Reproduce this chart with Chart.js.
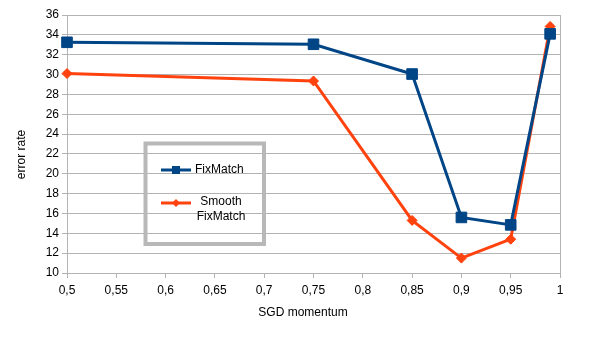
<!DOCTYPE html>
<html>
<head>
<meta charset="utf-8">
<script src="https://cdn.jsdelivr.net/npm/chart.js@4/dist/chart.umd.min.js"></script>
<style>
  html, body { margin: 0; padding: 0; background: #fff; }
  #wrap { width: 605px; height: 340px; }
</style>
</head>
<body>
<div id="wrap"><canvas id="chart" width="605" height="340"></canvas></div>
<script>
// momentum values on the x axis
const momentum = [0.5, 0.75, 0.85, 0.9, 0.95, 0.99];
const fixmatch = [33.25, 33.05, 30.05, 15.6, 14.85, 34.1];
const smoothFixmatch = [30.1, 29.35, 15.3, 11.5, 13.4, 34.85];
const seriesNames = ['FixMatch', 'Smooth FixMatch'];
const xTitle = 'SGD momentum';
const yTitle = 'error rate';

const blue = '#004586';
const orange = '#ff420e';
const gridGray = '#b3b3b3';

const toPoints = vals => momentum.map((m, i) => ({x: m, y: vals[i]}));

// titles, legend box and right frame line
const extras = {
  id: 'extras',
  beforeDatasetsDraw(chart) {
    const ctx = chart.ctx, a = chart.chartArea;
    ctx.save();
    ctx.strokeStyle = gridGray;
    ctx.lineWidth = 1;
    ctx.beginPath();
    ctx.moveTo(Math.round(a.right) + 0.5, a.top);
    ctx.lineTo(Math.round(a.right) + 0.5, a.bottom);
    ctx.stroke();
    ctx.restore();
  },
  afterDraw(chart) {
    const ctx = chart.ctx;
    ctx.save();
    ctx.font = '12px "Liberation Sans", Arial, sans-serif';
    ctx.fillStyle = '#000';
    ctx.textAlign = 'center';
    ctx.textBaseline = 'middle';
    ctx.fillText(xTitle, 303, 313);
    ctx.save();
    ctx.translate(21.5, 154.5);
    ctx.rotate(-Math.PI / 2);
    ctx.fillText(yTitle, 0, 0);
    ctx.restore();

    // legend frame
    ctx.strokeStyle = '#b8b8b8';
    ctx.lineWidth = 4;
    ctx.strokeRect(145.5, 143.5, 118.5, 100.5);

    // FixMatch entry
    ctx.strokeStyle = blue;
    ctx.lineWidth = 3;
    ctx.beginPath();
    ctx.moveTo(161, 170); ctx.lineTo(191, 170);
    ctx.stroke();
    ctx.fillStyle = blue;
    ctx.fillRect(172, 166, 8, 8);
    ctx.fillStyle = '#000';
    ctx.textAlign = 'left';
    ctx.fillText(seriesNames[0], 195, 170);

    // Smooth FixMatch entry
    ctx.strokeStyle = orange;
    ctx.beginPath();
    ctx.moveTo(161, 203); ctx.lineTo(191, 203);
    ctx.stroke();
    ctx.fillStyle = orange;
    ctx.beginPath();
    ctx.moveTo(176, 199); ctx.lineTo(180, 203); ctx.lineTo(176, 207); ctx.lineTo(172, 203);
    ctx.closePath(); ctx.fill();
    ctx.fillStyle = '#000';
    ctx.textAlign = 'center';
    const words = seriesNames[1].split(' ');
    ctx.fillText(words[0], 221, 202);
    ctx.fillText(words[1], 221, 217);
    ctx.restore();
  }
};

new Chart(document.getElementById('chart'), {
  type: 'line',
  data: {
    datasets: [{
      label: seriesNames[0],
      data: toPoints(fixmatch),
      borderColor: blue,
      backgroundColor: blue,
      borderWidth: 3,
      pointStyle: 'rect',
      pointRadius: 7.5,
      pointBorderWidth: 1,
      tension: 0,
      clip: false
    }, {
      label: seriesNames[1],
      data: toPoints(smoothFixmatch),
      borderColor: orange,
      backgroundColor: orange,
      borderWidth: 3,
      pointStyle: 'rectRot',
      pointRadius: 5,
      pointBorderWidth: 1,
      tension: 0,
      clip: false
    }]
  },
  options: {
    responsive: false,
    animation: false,
    layout: { padding: { top: 15, right: 45, left: 0, bottom: 0 } },
    plugins: { legend: { display: false }, tooltip: { enabled: false } },
    scales: {
      x: {
        type: 'linear',
        min: 0.5,
        max: 1,
        afterFit(scale) { scale.height = 67; },
        ticks: {
          stepSize: 0.05,
          color: '#000',
          padding: 5,
          maxRotation: 0,
          font: { family: '"Liberation Sans", Arial, sans-serif', size: 12 },
          callback: v => String(parseFloat(v.toFixed(2))).replace('.', ',')
        },
        grid: { drawOnChartArea: false, drawTicks: true, tickLength: 5, color: gridGray },
        border: { color: gridGray }
      },
      y: {
        min: 10,
        max: 36,
        afterFit(scale) { scale.width = 67; },
        ticks: {
          stepSize: 2,
          color: '#000',
          padding: 3,
          font: { family: '"Liberation Sans", Arial, sans-serif', size: 12 }
        },
        grid: { color: gridGray, tickLength: 5 },
        border: { color: gridGray }
      }
    }
  },
  plugins: [extras]
});
</script>
</body>
</html>
